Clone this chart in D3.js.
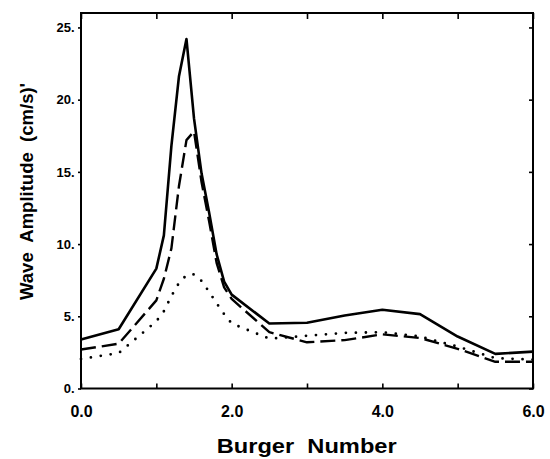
<!DOCTYPE html>
<html>
<head>
<meta charset="utf-8">
<script src="https://cdn.jsdelivr.net/npm/d3@7"></script>
<style>
  html, body { margin: 0; padding: 0; background: #fff; }
  svg { display: block; font-family: "Liberation Sans", Arial, sans-serif; font-weight: bold; }
</style>
</head>
<body>
<svg id="chart" width="550" height="459"></svg>
<script>
// ---- data ----
const burger = [0, 0.5, 1.0, 1.1, 1.2, 1.3, 1.4, 1.5, 1.6, 1.7, 1.8, 1.9, 2.0, 2.5, 3.0, 3.5, 4.0, 4.5, 5.0, 5.5, 6.0];
const solidAmp  = [3.4, 4.1, 8.3, 10.6, 16.8, 21.6, 24.2, 18.7, 14.9, 12.2, 9.3, 7.4, 6.5, 4.5, 4.55, 5.05, 5.45, 5.15, 3.6, 2.4, 2.55];
const dashedAmp = [2.7, 3.1, 6.1, 7.6, 9.7, 14.0, 17.2, 17.8, 14.3, 11.6, 8.7, 7.0, 6.2, 3.9, 3.2, 3.35, 3.75, 3.5, 2.75, 1.85, 1.85];
const dottedAmp = [2.05, 2.45, 4.65, 5.35, 6.4, 7.3, 7.85, 7.9, 7.45, 6.7, 5.9, 5.15, 4.5, 3.45, 3.65, 3.85, 3.9, 3.6, 2.9, 2.1, 2.0];
const xTicks = [0, 1, 2, 3, 4, 5, 6];
const xTickLabels = ["0.0", "", "2.0", "", "4.0", "", "6.0"];
const yTicks = [0, 5, 10, 15, 20, 25];
const yTickLabels = ["0.", "5.", "10.", "15.", "20.", "25."];
const xTitle = "Burger  Number";
const yTitle = "Wave  Amplitude  (cm/s)'";

// ---- layout ----
const svg = d3.select("#chart");
const L = 81, R = 533, T = 13, B = 388.5;
const x = d3.scaleLinear().domain([0, 6]).range([L, R]);
const y = d3.scaleLinear().domain([0, 26]).range([B, T]);

const series = [
  { vals: solidAmp,  dash: null,   width: 2.6, cap: "butt" },
  { vals: dashedAmp, dash: "15,6", width: 2.4, cap: "butt" },
  { vals: dottedAmp, dash: "0,10", width: 2.8, cap: "round" }
];

const line = d3.line().x(d => x(d[0])).y(d => y(d[1]));
series.forEach(s => {
  svg.append("path")
    .datum(burger.map((b, i) => [b, s.vals[i]]))
    .attr("d", line)
    .attr("fill", "none")
    .attr("stroke", "#000")
    .attr("stroke-width", s.width)
    .attr("stroke-linecap", s.cap)
    .attr("stroke-linejoin", "round")
    .attr("stroke-dasharray", s.dash);
});

// axes
const styleAxis = g => {
  g.select(".domain").remove();
  g.selectAll(".tick line").attr("stroke", "#000").attr("stroke-width", 1.6);
  g.selectAll("text").attr("fill", "#000").style("font-family", "'Liberation Sans', Arial, sans-serif").style("font-weight", "bold");
};

svg.append("g").attr("transform", `translate(0,${B})`)
  .call(d3.axisBottom(x).tickValues(xTicks).tickSize(-5).tickPadding(17)
    .tickFormat((d, i) => xTickLabels[i]))
  .call(styleAxis)
  .selectAll("text").style("font-size", "16px");

svg.append("g").attr("transform", `translate(0,${T})`)
  .call(d3.axisTop(x).tickValues(xTicks).tickSize(-6).tickFormat(""))
  .call(styleAxis);

svg.append("g").attr("transform", `translate(${L},0)`)
  .call(d3.axisLeft(y).tickValues(yTicks).tickSize(3).tickPadding(3.5)
    .tickFormat((d, i) => yTickLabels[i]))
  .call(styleAxis)
  .selectAll("text").style("font-size", "13px");

svg.append("g").attr("transform", `translate(${R},0)`)
  .call(d3.axisRight(y).tickValues(yTicks).tickSize(-4).tickFormat(""))
  .call(styleAxis);

// frame
svg.append("rect")
  .attr("x", L).attr("y", T)
  .attr("width", R - L).attr("height", B - T)
  .attr("fill", "none").attr("stroke", "#000").attr("stroke-width", 2);

// titles
svg.append("text")
  .attr("x", 306.7).attr("y", 453)
  .attr("text-anchor", "middle")
  .attr("textLength", 180).attr("lengthAdjust", "spacingAndGlyphs")
  .style("white-space", "pre")
  .style("font-size", "21px")
  .text(xTitle);

svg.append("text")
  .attr("transform", "translate(32.5,191.5) rotate(-90)")
  .attr("text-anchor", "middle")
  .attr("textLength", 217).attr("lengthAdjust", "spacingAndGlyphs")
  .style("white-space", "pre")
  .style("font-size", "19px")
  .text(yTitle);
</script>
</body>
</html>
